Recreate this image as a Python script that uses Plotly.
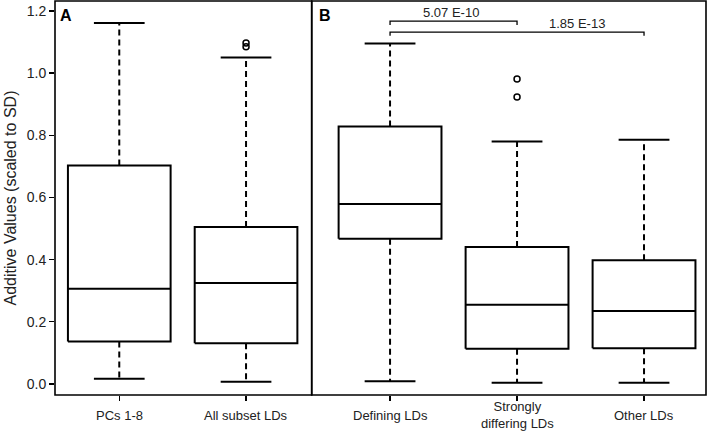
import plotly.graph_objects as go

# ---- data ----
panel_a_labels = ["PCs 1-8", "All subset LDs"]
panel_a_lower = [0.017, 0.007]
panel_a_q1 = [0.137, 0.131]
panel_a_median = [0.306, 0.325]
panel_a_q3 = [0.703, 0.505]
panel_a_upper = [1.161, 1.050]
panel_a_outliers = [[], [1.085, 1.097]]

panel_b_labels = ["Defining LDs", "Strongly<br>differing LDs", "Other LDs"]
panel_b_lower = [0.009, 0.004, 0.004]
panel_b_q1 = [0.467, 0.113, 0.115]
panel_b_median = [0.579, 0.255, 0.235]
panel_b_q3 = [0.828, 0.441, 0.398]
panel_b_upper = [1.095, 0.780, 0.786]
panel_b_outliers = [[], [0.923, 0.981], []]

pvalue_labels = ["5.07 E-10", "1.85 E-13"]
pvalue_pairs = [(0, 1), (0, 2)]
pvalue_heights = [1.167, 1.132]
pvalue_label_x = [0.476, 1.47]

y_ticks = [0.0, 0.2, 0.4, 0.6, 0.8, 1.0, 1.2]

FONT = "Liberation Sans, Arial, sans-serif"
BOX_W = 0.81
CAP_W = 0.40
LW = 2

fig = go.Figure()


def add_boxes(xa, ya, lower, q1, med, q3, upper, outliers):
    for i in range(len(med)):
        c = i
        h = BOX_W / 2
        fig.add_trace(go.Scatter(
            x=[c - h, c + h, c + h, c - h, c - h], y=[q1[i], q1[i], q3[i], q3[i], q1[i]],
            mode="lines", line=dict(color="black", width=LW), xaxis=xa, yaxis=ya,
            hoverinfo="skip", showlegend=False))
        fig.add_trace(go.Scatter(
            x=[c - h, c + h], y=[med[i], med[i]], mode="lines",
            line=dict(color="black", width=LW), xaxis=xa, yaxis=ya,
            hoverinfo="skip", showlegend=False))
        fig.add_trace(go.Scatter(
            x=[c, c, None, c, c], y=[q3[i], upper[i], None, q1[i], lower[i]], mode="lines",
            line=dict(color="black", width=LW, dash="6px,4px"), xaxis=xa, yaxis=ya,
            hoverinfo="skip", showlegend=False))
        ch = CAP_W / 2
        fig.add_trace(go.Scatter(
            x=[c - ch, c + ch, None, c - ch, c + ch],
            y=[upper[i], upper[i], None, lower[i], lower[i]], mode="lines",
            line=dict(color="black", width=LW), xaxis=xa, yaxis=ya,
            hoverinfo="skip", showlegend=False))
        if outliers[i]:
            fig.add_trace(go.Scatter(
                x=[c] * len(outliers[i]), y=outliers[i], mode="markers",
                marker=dict(symbol="circle-open", size=6, color="black",
                            line=dict(width=1.5, color="black")),
                xaxis=xa, yaxis=ya, hoverinfo="skip", showlegend=False))


add_boxes("x", "y", panel_a_lower, panel_a_q1, panel_a_median, panel_a_q3,
          panel_a_upper, panel_a_outliers)
add_boxes("x2", "y", panel_b_lower, panel_b_q1, panel_b_median, panel_b_q3,
          panel_b_upper, panel_b_outliers)

# significance brackets
for (a, b), h in zip(pvalue_pairs, pvalue_heights):
    fig.add_trace(go.Scatter(
        x=[a, a, b, b], y=[h - 0.012, h, h, h - 0.012], mode="lines",
        line=dict(color="black", width=1.3), xaxis="x2", yaxis="y",
        hoverinfo="skip", showlegend=False))

for lx, h, lab in zip(pvalue_label_x, pvalue_heights, pvalue_labels):
    fig.add_annotation(x=lx, y=h, xref="x2", yref="y", text=lab,
                       showarrow=False, yanchor="bottom", yshift=-1,
                       font=dict(family=FONT, size=13, color="#222"))

# x category labels (centered vertically like the reference)
for xr, labels in [("x", panel_a_labels), ("x2", panel_b_labels)]:
    for i, lab in enumerate(labels):
        fig.add_annotation(x=i, y=0, xref=xr, yref="y domain", text=lab,
                           showarrow=False, yanchor="middle", yshift=-20,
                           font=dict(family=FONT, size=13, color="#222"))

# panel letters
fig.add_annotation(x=0.012, y=0.99, xref="x domain", yref="y domain", text="<b>A</b>",
                   showarrow=False, xanchor="left", yanchor="top",
                   font=dict(family=FONT, size=16, color="black"))
fig.add_annotation(x=0.0127, y=0.99, xref="x2 domain", yref="y domain", text="<b>B</b>",
                   showarrow=False, xanchor="left", yanchor="top",
                   font=dict(family=FONT, size=16, color="black"))

# panel borders
for xr in ["x domain", "x2 domain"]:
    fig.add_shape(type="rect", xref=xr, yref="y domain", x0=0, x1=1, y0=0, y1=1,
                  line=dict(color="black", width=1.6), layer="above")

split = (311.7 - 55) / (706 - 55)

axis_font = dict(family=FONT, size=14, color="#222")
fig.update_layout(
    width=709, height=441,
    margin=dict(l=55, r=3, t=1, b=46, autoexpand=False),
    paper_bgcolor="white", plot_bgcolor="white",
    showlegend=False,
    xaxis=dict(domain=[0, split], range=[-0.507, 1.518], tickmode="array",
               tickvals=list(range(len(panel_a_labels))), ticktext=["", ""],
               ticks="outside", ticklen=5, tickwidth=1.3, tickcolor="black",
               showgrid=False, zeroline=False, showline=False, showticklabels=False,
               anchor="y", fixedrange=True, automargin=False),
    xaxis2=dict(domain=[split, 1], range=[-0.617, 2.488], tickmode="array",
                tickvals=list(range(len(panel_b_labels))), ticktext=["", "", ""],
                ticks="outside", ticklen=5, tickwidth=1.3, tickcolor="black",
                showgrid=False, zeroline=False, showline=False, showticklabels=False,
                anchor="y", fixedrange=True, automargin=False),
    yaxis=dict(range=[-0.0354, 1.232], tickmode="array", tickvals=y_ticks,
               ticktext=[f"{v:.1f}" for v in y_ticks],
               ticks="outside", ticklen=5, tickwidth=1.3, tickcolor="black",
               showgrid=False, zeroline=False, showline=False, tickfont=axis_font,
               title=dict(text="Additive Values (scaled to SD)",
                          font=dict(family=FONT, size=16, color="#222"), standoff=6),
               fixedrange=True, automargin=False),
)

fig.write_html(
    "out.html",
    config={"displayModeBar": False, "staticPlot": True},
    post_script="document.body.style.margin='0';document.body.style.padding='0';",
)
